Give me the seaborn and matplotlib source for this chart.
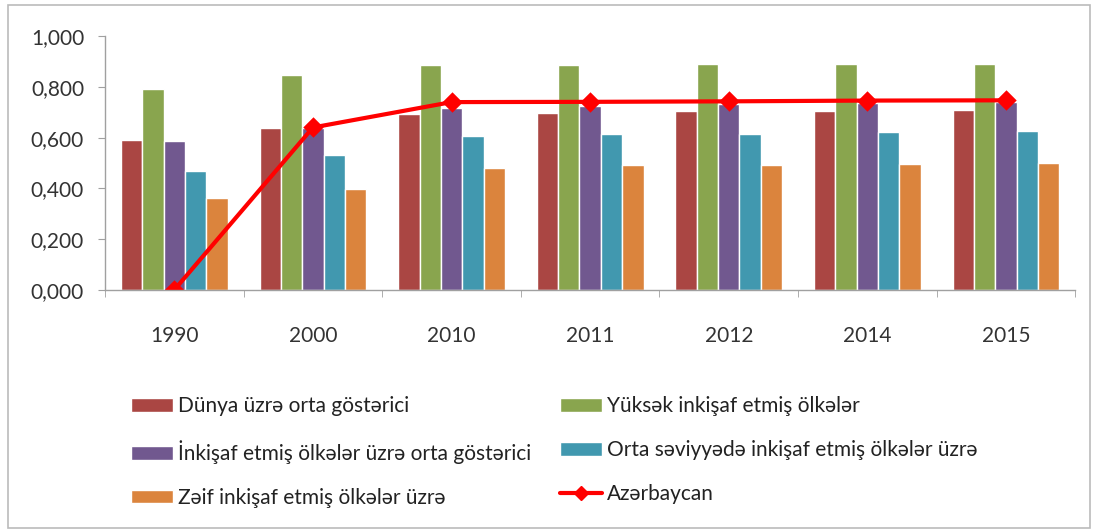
import pandas as pd
import matplotlib.pyplot as plt
import seaborn as sns
from matplotlib.lines import Line2D
from matplotlib.patches import Rectangle

years = ['1990', '2000', '2010', '2011', '2012', '2014', '2015']
dunya = [0.592, 0.638, 0.692, 0.697, 0.704, 0.704, 0.708]
yuksek = [0.793, 0.846, 0.887, 0.886, 0.891, 0.891, 0.891]
inkisaf = [0.587, 0.636, 0.718, 0.724, 0.734, 0.737, 0.739]
orta = [0.470, 0.532, 0.607, 0.616, 0.616, 0.621, 0.628]
zeif = [0.364, 0.399, 0.480, 0.491, 0.491, 0.496, 0.501]
azerbaycan = [0.000, 0.640, 0.740, 0.741, 0.743, 0.746, 0.747]

series_names = [
    'Dünya üzrə orta göstərici',
    'Yüksək inkişaf etmiş ölkələr',
    'İnkişaf etmiş ölkələr üzrə orta göstərici',
    'Orta səviyyədə inkişaf etmiş ölkələr üzrə',
    'Zəif inkişaf etmiş ölkələr üzrə',
]
colors = ['#AA4643', '#89A54E', '#71588F', '#4198AF', '#DB843D']

rows = []
for name, vals in zip(series_names, [dunya, yuksek, inkisaf, orta, zeif]):
    for y, v in zip(years, vals):
        rows.append({'year': y, 'value': v, 'series': name})
df = pd.DataFrame(rows)
df_az = pd.DataFrame({'year': years, 'value': azerbaycan})

sns.set_style('white')
plt.rcParams['font.family'] = ['Lato', 'DejaVu Sans']

fig = plt.figure(figsize=(10.99, 5.31), dpi=100)
ax = fig.add_axes([0.0955, 0.454, 0.883, 0.478])

sns.barplot(data=df, x='year', y='value', hue='series', palette=colors,
            width=0.77, saturation=1, ax=ax, errorbar=None)
sns.pointplot(data=df_az, x='year', y='value', color='#FF0000', markers='D',
              markersize=8, linewidth=3, errorbar=None, ax=ax)

ax.get_legend().remove()
ax.set_xlim(-0.5, len(years) - 0.5)
ax.set_ylim(0, 1.0)
ax.set_yticks([0, 0.2, 0.4, 0.6, 0.8, 1.0])
ax.set_yticklabels([f"{v:.3f}".replace('.', ',') for v in ax.get_yticks()])
ax.set_xlabel('')
ax.set_ylabel('')

# Excel-style ticks between categories
ax.set_xticks([i - 0.5 for i in range(len(years) + 1)], minor=True)
ax.tick_params(axis='x', which='major', length=0, pad=26, labelsize=15, colors='#333333')
ax.tick_params(axis='x', which='minor', length=5, color='#A0A0A0', bottom=True)
ax.tick_params(axis='y', length=5, color='#A0A0A0', left=True, labelsize=15,
               labelcolor='#333333', pad=10)

for side in ['top', 'right']:
    ax.spines[side].set_visible(False)
for side in ['left', 'bottom']:
    ax.spines[side].set_color('#A0A0A0')
    ax.spines[side].set_linewidth(1)

bars = [Rectangle((0, 0), 1, 1, facecolor=c) for c in colors]
az_line = Line2D([], [], color='#FF0000', lw=3, marker='D', markersize=7)
handles = [bars[0], bars[2], bars[4], bars[1], bars[3], az_line]
labels = [series_names[0], series_names[2], series_names[4],
          series_names[1], series_names[3], 'Azərbaycan']
fig.legend(handles, labels, ncol=2, loc='upper left', bbox_to_anchor=(0.110, 0.273),
           frameon=False, fontsize=15, handlelength=2.0, handleheight=0.6,
           handletextpad=0.25, labelspacing=1.15, columnspacing=1.4,
           borderpad=0, labelcolor='#222222')

fig.patches.append(Rectangle((0.007, 0.006), 0.985, 0.985, transform=fig.transFigure,
                             fill=False, edgecolor='#BBBBBB', lw=1.2))

plt.savefig('out.png', dpi=100)
